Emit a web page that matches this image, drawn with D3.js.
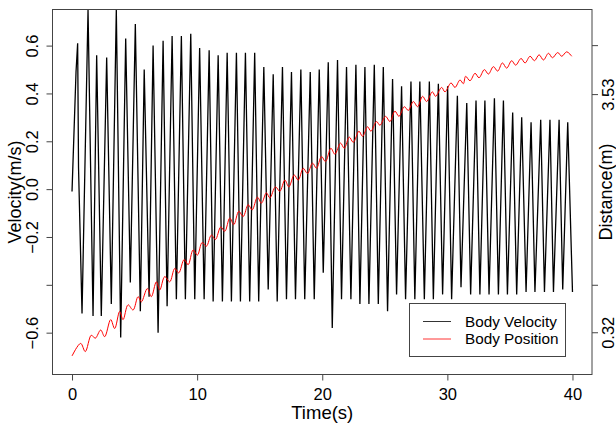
<!DOCTYPE html>
<html>
<head>
<meta charset="utf-8">
<script src="https://cdn.jsdelivr.net/npm/d3@7"></script>
<style>
  body { margin: 0; background: #fff; }
  text { font-family: "Liberation Sans", Arial, sans-serif; fill: #000; }
</style>
</head>
<body>
<svg id="chart" width="616" height="426"></svg>
<script>
// velocity samples (peaks / troughs)
const velTime = [0, 0.32, 0.45, 0.52, 0.80, 1.28, 1.68, 1.97, 2.34, 2.77, 3.14, 3.54, 3.89, 4.29, 4.66,
  5.06, 5.46, 5.77, 6.16, 6.48, 6.88, 7.28, 7.60, 8.00, 8.34, 8.74, 9.06, 9.49, 9.81, 10.20, 10.56,
  10.96, 11.28, 11.68, 12.02, 12.40, 12.74, 13.14, 13.46, 13.86, 14.20, 14.60, 14.92, 15.33, 15.68,
  16.08, 16.40, 16.82, 17.14, 17.54, 17.86, 18.29, 18.60, 19.04, 19.36, 19.76, 20.08, 20.48, 20.80,
  21.22, 21.54, 21.94, 22.29, 22.69, 23.01, 23.41, 23.73, 24.16, 24.48, 24.88, 25.22, 25.62, 25.94,
  26.34, 26.66, 27.09, 27.40, 27.80, 28.16, 28.56, 28.88, 29.28, 29.62, 30.02, 30.34, 30.80, 31.09,
  31.55, 31.86, 32.29, 32.60, 33.00, 33.33, 33.76, 34.08, 34.48, 34.80, 35.22, 35.54, 35.94, 36.29,
  36.69, 37.00, 37.46, 37.76, 38.20, 38.48, 38.93, 39.22, 39.62, 40.00];
const velocity = [-0.01, 0.49, 0.61, 0.09, -0.52, 0.75, -0.53, 0.56, -0.53, 0.55, -0.48, 0.75, -0.62, 0.63, -0.39,
  0.69, -0.51, 0.50, -0.45, 0.60, -0.60, 0.62, -0.49, 0.64, -0.46, 0.64, -0.46, 0.65, -0.46, 0.59, -0.46,
  0.58, -0.47, 0.56, -0.47, 0.57, -0.47, 0.57, -0.47, 0.57, -0.47, 0.57, -0.47, 0.51, -0.42,
  0.48, -0.47, 0.51, -0.46, 0.49, -0.46, 0.50, -0.46, 0.49, -0.46, 0.50, -0.35, 0.53, -0.58,
  0.54, -0.46, 0.51, -0.46, 0.52, -0.48, 0.51, -0.48, 0.52, -0.48, 0.51, -0.51, 0.46, -0.44,
  0.43, -0.46, 0.45, -0.46, 0.45, -0.46, 0.45, -0.46, 0.44, -0.44, 0.43, -0.46, 0.39, -0.41,
  0.36, -0.44, 0.37, -0.44, 0.37, -0.44, 0.38, -0.44, 0.37, -0.44, 0.32, -0.44, 0.30, -0.43,
  0.28, -0.43, 0.29, -0.43, 0.29, -0.43, 0.29, -0.42, 0.28, -0.43];

// position samples (wiggle tops / bottoms)
const posTime = [0, 0.69, 1.06, 1.54, 1.86, 2.29, 2.61, 3.09, 3.41, 3.81, 4.08, 4.48, 4.88, 5.28, 5.54,
  6.02, 6.34, 6.74, 7.01, 7.41, 7.81, 8.21, 8.53, 8.96, 9.28, 9.68, 10.02, 10.40, 10.74, 11.14, 11.46,
  11.89, 12.21, 12.61, 12.93, 13.33, 13.68, 14.08, 14.40, 14.82, 15.14, 15.54, 15.81, 16.26, 16.61,
  17.01, 17.33, 17.76, 18.08, 18.48, 18.82, 19.22, 19.54, 19.94, 20.26, 20.69, 21.01, 21.46, 21.76,
  22.16, 22.48, 22.93, 23.22, 23.62, 23.89, 24.34, 24.61, 25.06, 25.41, 25.81, 26.13, 26.56, 26.88,
  27.28, 27.62, 28.02, 28.34, 28.80, 29.06, 29.54, 29.81, 30.29, 30.61, 31.01, 31.28, 31.46, 31.81,
  32.21, 32.53, 32.96, 33.28, 33.68, 34.02, 34.40, 34.74, 35.14, 35.46, 35.89, 36.21, 36.61, 36.96,
  37.33, 37.68, 38.08, 38.40, 38.82, 39.14, 39.54, 39.94];
const position = [0.00, 0.17, 0.06, 0.28, 0.24, 0.35, 0.26, 0.49, 0.37, 0.60, 0.49, 0.69, 0.62, 0.80, 0.73,
  0.91, 0.80, 1.00, 0.89, 1.07, 1.00, 1.18, 1.12, 1.30, 1.23, 1.43, 1.36, 1.53, 1.48, 1.63, 1.57,
  1.74, 1.68, 1.86, 1.77, 1.95, 1.88, 2.04, 1.97, 2.14, 2.06, 2.20, 2.13, 2.28, 2.22,
  2.37, 2.28, 2.44, 2.37, 2.53, 2.46, 2.60, 2.53, 2.69, 2.62, 2.80, 2.72, 2.87, 2.80,
  2.95, 2.88, 3.03, 2.96, 3.09, 3.03, 3.16, 3.11, 3.23, 3.16, 3.30, 3.23, 3.36, 3.31,
  3.43, 3.36, 3.50, 3.43, 3.56, 3.50, 3.62, 3.56, 3.68, 3.62, 3.72, 3.67, 3.77, 3.71,
  3.81, 3.75, 3.86, 3.80, 3.90, 3.84, 3.95, 3.88, 3.98, 3.92, 4.01, 3.95, 4.04, 3.98,
  4.06, 3.99, 4.08, 4.02, 4.09, 4.04, 4.10, 4.04];

const timeTicks = [0, 10, 20, 30, 40];
const velTicks = [-0.6, -0.4, -0.2, 0.0, 0.2, 0.4, 0.6];
const velTickLabels = ["\u22120.6", "", "\u22120.2", "0.0", "0.2", "0.4", "0.6"];
const distTicks = [0.32, 0.96, 3.53, 4.19];
const distTickLabels = ["0.32", "", "3.53", ""];
const legendLabels = ["Body Velocity", "Body Position"];
const seriesColors = ["#000", "#ff0000"];

const plotLeft = 52, plotRight = 592.5, plotTop = 9, plotBottom = 375;

const svg = d3.select("#chart");

let x = d3.scaleLinear().domain([-1.6, 41.6]).range([plotLeft, plotRight]);
let yVel = d3.scaleLinear().domain([-0.777, 0.753]).range([plotBottom, plotTop]);
let yDist = d3.scaleLinear().domain([-0.256, 4.677]).range([plotBottom, plotTop]);

svg.append("clipPath").attr("id", "plotclip")
  .append("rect").attr("x", plotLeft).attr("y", plotTop)
  .attr("width", plotRight - plotLeft).attr("height", plotBottom - plotTop);

// velocity line
let velData = velTime.map(function(t, i) { return {t: t, v: velocity[i]}; });
svg.append("path")
  .datum(velData)
  .attr("clip-path", "url(#plotclip)")
  .attr("fill", "none")
  .attr("stroke", seriesColors[0])
  .attr("stroke-width", 1.3)
  .attr("d", d3.line()
    .x(function(d) { return x(d.t); })
    .y(function(d) { return yVel(d.v); }));

// position line
let posData = posTime.map(function(t, i) { return {t: t, d: position[i]}; });
svg.append("path")
  .datum(posData)
  .attr("fill", "none")
  .attr("stroke", seriesColors[1])
  .attr("stroke-width", 1)
  .attr("d", d3.line()
    .curve(d3.curveCatmullRom)
    .x(function(d) { return x(d.t); })
    .y(function(d) { return yDist(d.d); }));

// box
svg.append("rect")
  .attr("x", plotLeft + 0.5).attr("y", plotTop + 0.5)
  .attr("width", plotRight - plotLeft - 1).attr("height", plotBottom - plotTop - 1)
  .attr("fill", "none").attr("stroke", "#444").attr("stroke-width", 1);

// bottom axis
let xAxis = svg.append("g")
  .attr("transform", "translate(0," + (plotBottom - 0.5) + ")")
  .call(d3.axisBottom(x).tickValues(timeTicks).tickSize(6).tickPadding(8).tickFormat(d3.format("d")));
xAxis.select(".domain").remove();
xAxis.selectAll("line").attr("stroke", "#444");
xAxis.selectAll("text").attr("font-size", 16.5).attr("fill", "#000")
  .style("font-family", "'Liberation Sans', Arial, sans-serif");

// left axis, labels parallel to the axis
let yAxisL = svg.append("g")
  .attr("transform", "translate(" + (plotLeft + 0.5) + ",0)")
  .call(d3.axisLeft(yVel).tickValues(velTicks).tickSize(6).tickFormat(function(d, i) { return velTickLabels[i]; }));
yAxisL.select(".domain").remove();
yAxisL.selectAll("line").attr("stroke", "#444");
yAxisL.selectAll("text")
  .attr("font-size", 16.5).attr("fill", "#000")
  .style("font-family", "'Liberation Sans', Arial, sans-serif")
  .attr("x", null).attr("dy", null)
  .attr("text-anchor", "middle")
  .attr("transform", "translate(-15,0) rotate(-90)");

// right axis
let yAxisR = svg.append("g")
  .attr("transform", "translate(" + (plotRight - 0.5) + ",0)")
  .call(d3.axisRight(yDist).tickValues(distTicks).tickSize(6).tickFormat(function(d, i) { return distTickLabels[i]; }));
yAxisR.select(".domain").remove();
yAxisR.selectAll("line").attr("stroke", "#444");
yAxisR.selectAll("text")
  .attr("font-size", 16.5).attr("fill", "#000")
  .style("font-family", "'Liberation Sans', Arial, sans-serif")
  .attr("x", null).attr("dy", null)
  .attr("text-anchor", "middle")
  .attr("transform", "translate(22,0) rotate(-90)");

// axis titles
svg.append("text")
  .attr("x", (plotLeft + plotRight) / 2).attr("y", 419)
  .attr("text-anchor", "middle").attr("font-size", 18.5)
  .text("Time(s)");

svg.append("text")
  .attr("transform", "translate(21," + (plotTop + plotBottom) / 2 + ") rotate(-90)")
  .attr("text-anchor", "middle").attr("font-size", 18)
  .text("Velocity(m/s)");

svg.append("text")
  .attr("transform", "translate(612," + (plotTop + plotBottom) / 2 + ") rotate(-90)")
  .attr("text-anchor", "middle").attr("font-size", 18)
  .text("Distance(m)");

// legend
let legend = svg.append("g");
legend.append("rect")
  .attr("x", 409.5).attr("y", 303.5).attr("width", 156).attr("height", 53)
  .attr("fill", "#fff").attr("stroke", "#444");
legendLabels.forEach(function(label, i) {
  let ly = 321.5 + i * 17.5;
  legend.append("line")
    .attr("x1", 423).attr("x2", 451).attr("y1", ly).attr("y2", ly)
    .attr("stroke", seriesColors[i]).attr("stroke-width", 0.8);
  legend.append("text")
    .attr("x", 465).attr("y", ly + 5)
    .attr("font-size", 15.3)
    .text(label);
});
</script>
</body>
</html>
